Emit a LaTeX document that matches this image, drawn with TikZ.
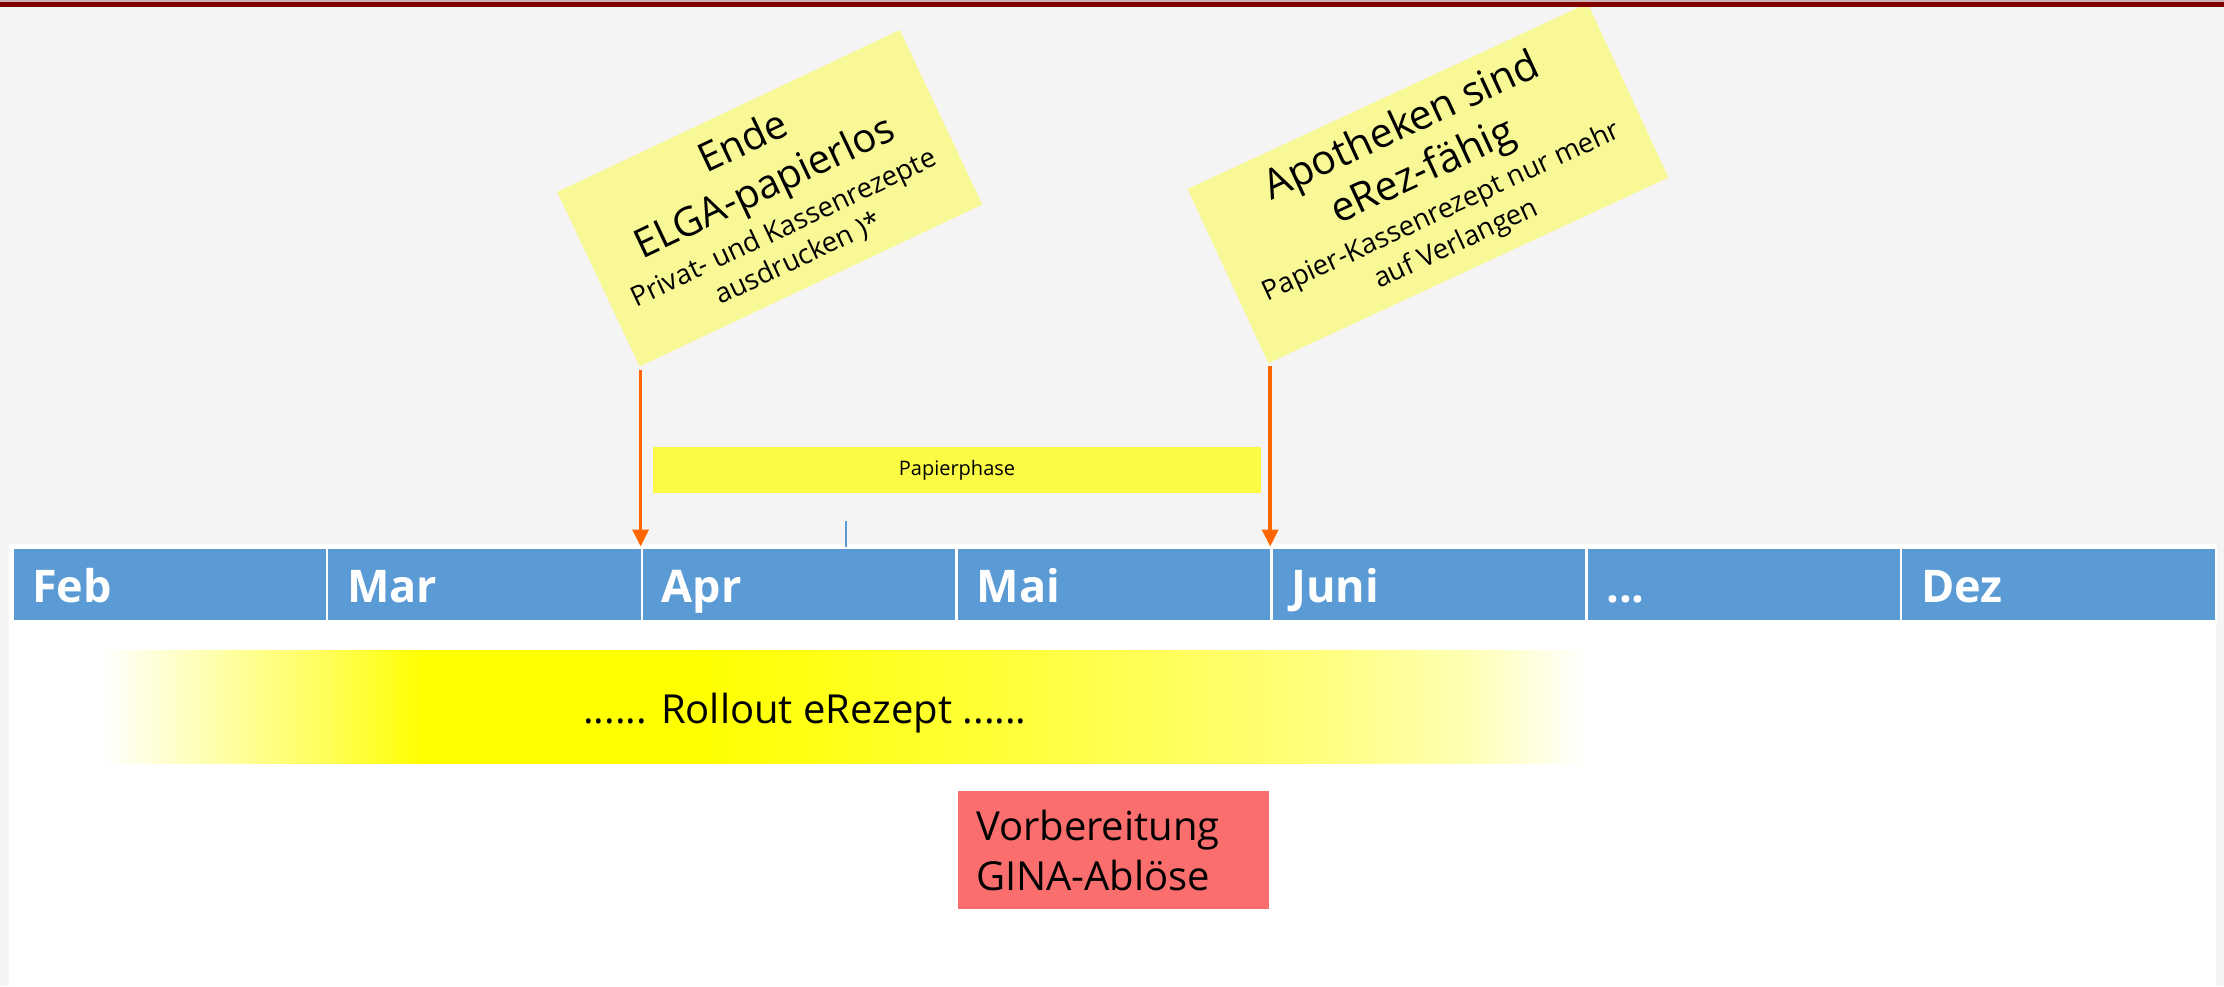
\documentclass[tikz,border=0pt]{standalone}
\usepackage{fontspec}
\setmainfont{Open Sans}
\usetikzlibrary{arrows.meta}
\definecolor{bggrey}{RGB}{244,244,244}
\definecolor{darkred}{RGB}{128,0,0}
\definecolor{toplight}{RGB}{205,180,180}
\definecolor{cellblue}{RGB}{91,155,213}
\definecolor{notey}{RGB}{248,248,150}
\definecolor{paperY}{RGB}{251,251,69}
\definecolor{arrowor}{RGB}{255,102,0}
\definecolor{ginared}{RGB}{251,110,110}
\definecolor{ryellow}{RGB}{255,255,0}
\pgfdeclarehorizontalshading{rollout}{100bp}{color(0bp)=(white); color(25bp)=(white); color(28.8bp)=(ryellow!33!white); color(32.5bp)=(ryellow!65!white); color(35.8bp)=(ryellow); color(45bp)=(ryellow); color(54.4bp)=(ryellow!80!white); color(65.4bp)=(ryellow!53!white); color(70.9bp)=(ryellow!30!white); color(75bp)=(white); color(100bp)=(white)}
\newcommand\smalltxt{\fontsize{27.5}{34}\selectfont}
\tikzset{
  cell/.style={fill=cellblue, draw=white, line width=2.5pt, minimum height=73pt, text width=275pt, inner xsep=20pt, inner ysep=0pt, align=left, anchor=north west, text=white, font=\fontsize{45}{50}\selectfont\bfseries, text height=37pt, text depth=0pt},
  note/.style={fill=notey, inner sep=5pt, align=center},
  arr/.style={draw=arrowor, line width=3.5pt, shorten <=3pt, -{Triangle[width=16pt,length=17pt]}},
  phase/.style={fill=paperY, inner sep=0pt, font=\fontsize{20}{24}\selectfont},
  gina/.style={fill=ginared, inner xsep=18pt, inner ysep=0pt, align=left, font=\fontsize{40}{50}\selectfont},
  tick/.style={draw=cellblue, line width=1.2pt}
}
\begin{document}
\begin{tikzpicture}[x=1pt,y=-1pt]
\useasboundingbox (0,0) rectangle (2224,986);
\fill[bggrey] (0,0) rectangle (2224,986);
\fill[white] (9,544) rectangle (2216,986);
% month cells
\node[cell] (feb)  at (11,546.5)     {Feb};
\node[cell] (mar)  at (325.8,546.5)  {Mar};
\node[cell] (apr)  at (640.6,546.5)  {Apr};
\node[cell] (mai)  at (955.4,546.5)  {Mai};
\node[cell] (juni) at (1270.2,546.5) {Juni};
\node[cell] (dots) at (1585,546.5)   {...};
\node[cell] (dez)  at (1899.8,546.5) {Dez};
% small tick
\coordinate (tk) at (846,521);
\draw[tick] (tk) -- (tk |- apr.north);
% Papierphase
\node[phase, minimum width=608pt, minimum height=46pt] (pp) at (957,470) {Papierphase};
% sticky notes
\node[note, rotate=25.3, minimum width=379pt, minimum height=193pt, font=\fontsize{40}{50}\selectfont] (n1) at (769.75,198.25)
  {Ende\\ELGA-papierlos\\[-9pt]{\smalltxt Privat- und Kassenrezepte}\\[-16pt]{\smalltxt ausdrucken )*}};
\node[note, rotate=24.9, minimum width=441pt, minimum height=192pt, font=\fontsize{41}{50}\selectfont] (n2) at (1428,183.25)
  {Apotheken sind\\eRez-fähig\\[-10pt]{\smalltxt Papier-Kassenrezept nur mehr}\\[-14.5pt]{\smalltxt auf Verlangen}};
% top lines
\fill[toplight] (0,0) rectangle (2224,2);
\fill[darkred] (0,2) rectangle (2224,7);
% arrows
\draw[arr] (apr.north west |- n1.south west) -- (apr.north west);
\draw[arr] (juni.north west |- n2.south west) -- (juni.north west);
% rollout
\node[shade, shading=rollout, minimum width=1483pt, minimum height=113pt, inner sep=0pt] (ro) at (844.5,706.5) {};
\node[font=\fontsize{40}{50}\selectfont, anchor=base, inner sep=0pt] (rotext) at (805,723) {...... Rollout eRezept ......};
% GINA
\node[gina, minimum width=311pt, minimum height=118pt, text width=275pt] (gn) at (1113.5,850) {Vorbereitung\\GINA-Ablöse};
\end{tikzpicture}
\end{document}
